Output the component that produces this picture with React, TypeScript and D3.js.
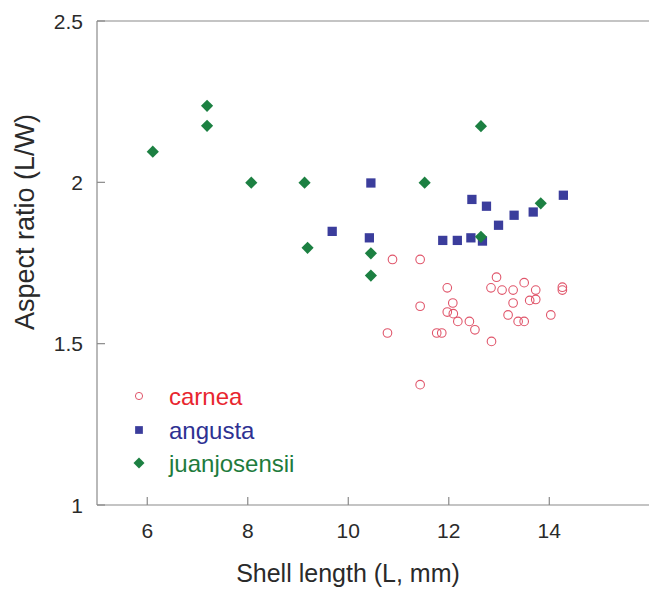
import React from "react";
import * as d3 from "d3";

const carneaX = [10.88, 11.43, 12.95, 11.97, 12.84, 13.06, 13.28, 13.5, 13.73, 14.26, 14.26, 11.43, 12.08, 11.97, 12.09, 12.18, 12.41, 12.52, 13.28, 13.61, 13.73, 13.18, 13.38, 13.5, 14.03, 10.78, 11.76, 11.86, 12.85, 11.43];
const carneaY = [1.761, 1.761, 1.706, 1.673, 1.673, 1.666, 1.666, 1.689, 1.666, 1.675, 1.666, 1.616, 1.626, 1.598, 1.593, 1.569, 1.569, 1.543, 1.626, 1.634, 1.637, 1.589, 1.569, 1.569, 1.589, 1.533, 1.533, 1.533, 1.507, 1.373];

const angustaX = [10.45, 9.68, 10.42, 12.46, 12.75, 14.28, 13.68, 13.3, 12.99, 11.88, 12.17, 12.44, 12.67];
const angustaY = [1.998, 1.848, 1.828, 1.947, 1.926, 1.96, 1.908, 1.898, 1.867, 1.82, 1.82, 1.828, 1.818];

const juanX = [6.11, 7.19, 7.19, 8.07, 9.13, 9.19, 10.45, 10.45, 11.52, 12.64, 12.64, 13.83];
const juanY = [2.095, 2.237, 2.175, 1.999, 1.999, 1.797, 1.78, 1.711, 1.999, 2.174, 1.831, 1.935];

const xTicks = [6, 8, 10, 12, 14];
const yTicks = [1, 1.5, 2, 2.5];
const legendLabels = ["carnea", "angusta", "juanjosensii"];

const FONT = "'Liberation Sans', Arial, Helvetica, sans-serif";
const AXIS = "#8a8a8a";
const RED = "#e0566b";
const BLUE = "#3b3d9c";
const GREEN = "#1c8042";
const TEXT_COLORS = ["#e8262f", "#2e3192", "#1e7b3c"];

export default function App() {
  const W = 649;
  const H = 591;
  const x = d3.scaleLinear().domain([5, 16]).range([97, 649.8]);
  const y = d3.scaleLinear().domain([1, 2.5]).range([505, 21]);
  const squarePath = d3.symbol(d3.symbolSquare, 86)() as string;
  const diamondPath = d3.symbol(d3.symbolSquare, 74)() as string;
  const legSquare = d3.symbol(d3.symbolSquare, 60)() as string;
  const legDiamond = d3.symbol(d3.symbolSquare, 60)() as string;

  const legendY = [396, 430, 463];

  return (
    <svg width={W} height={H} style={{ position: "absolute", left: 0, top: 0, background: "#fff" }} fontFamily={FONT}>
      {/* axes frame */}
      <line x1={97} x2={97} y1={21} y2={505} stroke={AXIS} strokeWidth={1.2} />
      <line x1={97} x2={W} y1={505} y2={505} stroke={AXIS} strokeWidth={1.2} />
      <line x1={97} x2={W} y1={21} y2={21} stroke={AXIS} strokeWidth={1.2} />
      {xTicks.map((t) => (
        <g key={"x" + t}>
          <line x1={x(t)} x2={x(t)} y1={505} y2={497} stroke={AXIS} strokeWidth={1.2} />
          <text x={x(t)} y={538} textAnchor="middle" fontSize={21} fill="#2a2a2a">{t}</text>
        </g>
      ))}
      {yTicks.map((t) => (
        <g key={"y" + t}>
          <line x1={97} x2={105} y1={y(t)} y2={y(t)} stroke={AXIS} strokeWidth={1.2} />
          <text x={83} y={y(t)} dy="0.36em" textAnchor="end" fontSize={21} fill="#2a2a2a">{t}</text>
        </g>
      ))}
      <text x={348} y={582} textAnchor="middle" fontSize={25} fill="#2a2a2a">Shell length (L, mm)</text>
      <text transform="translate(34,222) rotate(-90)" textAnchor="middle" fontSize={27} fill="#2a2a2a">Aspect ratio (L/W)</text>

      {/* data */}
      {carneaX.map((v, i) => (
        <circle key={"c" + i} cx={x(v)} cy={y(carneaY[i])} r={4.3} fill="none" stroke={RED} strokeWidth={1.1} />
      ))}
      {angustaX.map((v, i) => (
        <path key={"a" + i} d={squarePath} transform={`translate(${x(v)},${y(angustaY[i])})`} fill={BLUE} />
      ))}
      {juanX.map((v, i) => (
        <path key={"j" + i} d={diamondPath} transform={`translate(${x(v)},${y(juanY[i])}) rotate(45)`} fill={GREEN} />
      ))}

      {/* legend */}
      <circle cx={139} cy={legendY[0]} r={3.6} fill="none" stroke={RED} strokeWidth={1} />
      <path d={legSquare} transform={`translate(139,${legendY[1]})`} fill={BLUE} />
      <path d={legDiamond} transform={`translate(139,${legendY[2]}) rotate(45)`} fill={GREEN} />
      {legendLabels.map((l, i) => (
        <text key={l} x={169} y={legendY[i]} dy="0.36em" fontSize={24} fill={TEXT_COLORS[i]}>{l}</text>
      ))}
    </svg>
  );
}
